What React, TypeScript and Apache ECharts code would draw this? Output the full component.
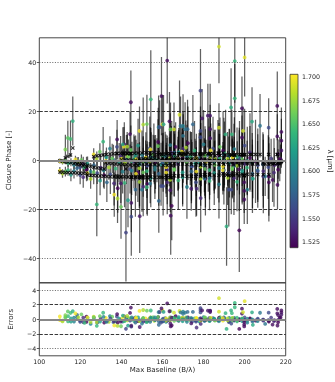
import React, { useEffect, useRef } from "react";
import * as echarts from "echarts";

// Each tuple: [maxBaseline (B/λ), closurePhase, error, wavelength (µm), model]
const leftGroup: number[][] = [
  [110.0, -0.3, 1.0, 1.7, -0.2], [111.3, -0.6, 1.1, 1.68, -0.4], [112.7, -0.2, 1.2, 1.66, -0.6], [114.0, -1.2, 1.4, 1.64, -0.8], [115.4, -0.8, 1.6, 1.62, -1.0],
  [116.9, -1.9, 1.9, 1.6, -1.3], [118.4, -1.0, 2.2, 1.58, -1.6], [119.9, -2.8, 2.6, 1.56, -1.9], [121.4, -1.6, 3.0, 1.54, -2.3], [123.0, -3.9, 3.5, 1.52, -2.7],
  [110.0, -4.2, 1.5, 1.7, -4.8], [111.3, -5.4, 1.7, 1.68, -4.9], [112.7, -4.6, 2.0, 1.66, -5.0], [114.0, -4.0, 2.3, 1.64, -5.0], [115.4, -5.9, 2.6, 1.62, -5.1],
  [116.9, -4.4, 3.0, 1.6, -5.1], [118.4, -3.2, 3.4, 1.58, -5.2], [119.9, -6.0, 3.8, 1.56, -5.3], [121.4, -6.9, 4.3, 1.54, -5.3], [123.0, -3.6, 5.0, 1.52, -5.4],
  [112.7, 4.4, 6.0, 1.665, 1.0], [113.9, 9.1, 7.0, 1.655, 1.6], [115.2, 8.7, 7.5, 1.645, 2.2], [116.3, 16.0, 10.0, 1.635, 5.0],
  [117.6, 0.4, 1.5, 1.7, -0.8], [119.0, -0.5, 1.8, 1.68, -1.0], [120.5, 0.2, 2.2, 1.66, -1.3], [122.0, -2.9, 2.6, 1.64, -1.6], [123.5, -1.4, 3.0, 1.62, -2.0],
  [125.0, -4.6, 3.5, 1.6, -2.4], [126.6, -2.0, 4.0, 1.58, -2.8], [128.2, -5.2, 4.5, 1.56, -3.1], [129.9, -3.0, 5.0, 1.54, -3.4], [131.6, -6.1, 5.5, 1.52, -3.6],
];

const streakUpper: number[][] = [
  [126.5, 2.4, 2.5, 1.7, 1.5], [128.0, 0.6, 3, 1.68, 1.8], [129.5, 3.5, 3.5, 1.66, 2.0], [131.1, 7.6, 6, 1.64, 2.2], [132.7, 1.2, 4, 1.62, 2.4],
  [134.4, 4.8, 5, 1.6, 2.6], [136.1, 0.3, 6, 1.58, 2.7], [137.8, 5.5, 7, 1.56, 2.8], [139.6, 1.9, 8, 1.54, 2.9], [141.4, 6.5, 9, 1.52, 3.0],
  [141.2, 5.6, 8, 1.7, 2.6], [142.9, 1.5, 9, 1.68, 2.7], [144.6, 4.2, 10, 1.66, 2.8], [146.3, 0.8, 9, 1.64, 2.9], [148.1, 6.0, 11, 1.62, 3.0],
  [150.0, 2.2, 10, 1.6, 3.0], [151.9, -0.5, 12, 1.58, 3.1], [153.8, 4.9, 13, 1.56, 3.1], [155.8, 3.0, 12, 1.54, 3.2], [157.9, 7.5, 14, 1.52, 3.2],
  [154.1, 4.5, 9, 1.7, 2.0], [156.0, 0.2, 10, 1.68, 2.2], [157.8, 5.8, 11, 1.66, 2.3], [159.8, 2.0, 9, 1.64, 2.5], [161.7, -1.5, 12, 1.62, 2.6],
  [163.8, 6.2, 13, 1.6, 2.7], [165.8, 3.1, 11, 1.58, 2.8], [167.9, 0.4, 12, 1.56, 2.8], [170.1, 4.8, 14, 1.54, 2.9], [172.4, 7.0, 15, 1.52, 3.0],
  [169.4, 3.5, 10, 1.7, 2.2], [171.4, 5.2, 11, 1.68, 2.3], [173.5, 0.9, 11, 1.66, 2.4], [175.6, 4.0, 12, 1.64, 2.5], [177.8, -0.8, 12, 1.62, 2.6],
  [180.0, 6.5, 14, 1.6, 2.6], [182.3, 2.2, 15, 1.58, 2.7], [184.6, 4.8, 13, 1.56, 2.8], [187.0, 0.5, 16, 1.54, 2.9], [189.5, 3.9, 16, 1.52, 3.0],
  [183.5, 4.0, 11, 1.7, 1.8], [185.7, 0.5, 12, 1.68, 1.9], [188.0, 5.5, 12, 1.66, 2.0], [190.2, 2.8, 13, 1.64, 2.1], [192.6, -1.2, 14, 1.62, 2.2],
  [195.0, 4.6, 13, 1.6, 2.2], [197.5, 1.0, 15, 1.58, 2.3], [200.0, 6.0, 15, 1.56, 2.3], [202.6, 3.2, 16, 1.54, 2.4], [205.3, -0.4, 17, 1.52, 2.4],
];

const streakNearZero: number[][] = [
  [140.0, 0.6, 6, 1.7, 0.2], [141.7, -0.9, 7, 1.68, 0.1], [143.4, 1.5, 7, 1.66, 0.1], [145.1, -0.4, 8, 1.64, 0.0], [146.9, 2.1, 8, 1.62, 0.0],
  [148.8, -1.6, 9, 1.6, -0.1], [150.6, 0.9, 9, 1.58, -0.1], [152.6, -2.2, 10, 1.56, -0.2], [154.5, 1.4, 10, 1.54, -0.2], [156.6, -0.7, 11, 1.52, -0.3],
  [151.8, 1.1, 7, 1.7, 0.3], [153.6, -0.5, 8, 1.68, 0.2], [155.4, 2.4, 8, 1.66, 0.2], [157.3, 0.0, 9, 1.64, 0.1], [159.3, -1.8, 9, 1.62, 0.1],
  [161.3, 1.7, 10, 1.6, 0.0], [163.3, -0.6, 10, 1.58, 0.0], [165.4, 2.0, 11, 1.56, -0.1], [167.5, -1.4, 11, 1.54, -0.1], [169.7, 0.8, 12, 1.52, -0.2],
  [167.6, 0.4, 8, 1.7, 0.4], [169.6, 2.3, 9, 1.68, 0.3], [171.7, -0.8, 9, 1.66, 0.3], [173.8, 1.6, 10, 1.64, 0.2], [175.9, -1.2, 10, 1.62, 0.2],
  [178.1, 0.9, 11, 1.6, 0.1], [180.4, -2.0, 11, 1.58, 0.1], [182.7, 1.8, 12, 1.56, 0.0], [185.1, -0.3, 12, 1.54, 0.0], [187.5, 2.2, 13, 1.52, -0.1],
  [181.2, -0.6, 9, 1.7, 0.0], [183.3, 1.3, 9, 1.68, -0.1], [185.5, -1.9, 10, 1.66, -0.1], [187.8, 0.7, 10, 1.64, -0.2], [190.1, -0.2, 11, 1.62, -0.2],
  [192.5, 1.9, 11, 1.6, -0.3], [194.9, -2.4, 12, 1.58, -0.3], [197.4, 0.3, 12, 1.56, -0.4], [200.0, -1.5, 13, 1.54, -0.4], [202.6, 1.0, 13, 1.52, -0.5],
];

const streakMid: number[][] = [
  [132.4, -0.2, 4, 1.7, -1.0], [133.9, -2.9, 5, 1.68, -1.2], [135.5, 0.8, 6, 1.66, -1.3], [137.2, -3.4, 7, 1.64, -1.5], [138.9, -0.9, 8, 1.62, -1.6],
  [140.6, -4.6, 9, 1.6, -1.7], [142.4, 0.3, 10, 1.58, -1.8], [144.2, -3.6, 10, 1.56, -1.9], [146.1, -0.5, 11, 1.54, -2.0], [148.0, -5.0, 12, 1.52, -2.1],
  [147.1, 0.4, 8, 1.7, -1.3], [148.8, -3.2, 9, 1.68, -1.4], [150.6, -0.6, 10, 1.66, -1.5], [152.4, -4.4, 11, 1.64, -1.6], [154.3, 1.2, 12, 1.62, -1.7],
  [156.3, -2.5, 11, 1.6, -1.8], [158.2, -5.5, 13, 1.58, -1.9], [160.3, -0.8, 12, 1.56, -2.0], [162.3, -3.9, 14, 1.54, -2.1], [164.5, 1.0, 15, 1.52, -2.2],
  [161.8, -2.8, 9, 1.7, -1.2], [163.7, 0.9, 10, 1.68, -1.3], [165.7, -3.6, 11, 1.66, -1.4], [167.7, -0.2, 12, 1.64, -1.5], [169.8, -4.9, 13, 1.62, -1.5],
  [171.9, 1.5, 13, 1.6, -1.6], [174.1, -2.4, 14, 1.58, -1.7], [176.3, -6.0, 14, 1.56, -1.8], [178.6, 0.2, 15, 1.54, -1.9], [180.9, -3.3, 16, 1.52, -2.0],
  [176.5, 0.8, 10, 1.7, -1.0], [178.6, -2.6, 11, 1.68, -1.1], [180.7, 1.9, 12, 1.66, -1.2], [182.9, -4.0, 12, 1.64, -1.3], [185.2, -0.5, 13, 1.62, -1.4],
  [187.5, -3.2, 14, 1.6, -1.5], [189.9, 2.4, 15, 1.58, -1.6], [192.3, -5.3, 15, 1.56, -1.7], [194.8, -1.1, 16, 1.54, -1.8], [197.4, -3.7, 17, 1.52, -1.9],
  [189.4, -2.5, 10, 1.7, -0.8], [191.7, 0.6, 11, 1.68, -0.9], [194.0, -3.1, 12, 1.66, -1.0], [196.3, 1.4, 12, 1.64, -1.1], [198.8, -4.2, 13, 1.62, -1.2],
  [201.3, -0.3, 14, 1.6, -1.3], [203.8, -5.5, 14, 1.58, -1.4], [206.4, -2.0, 15, 1.56, -1.5], [209.1, -4.4, 15, 1.54, -1.6], [211.8, -6.6, 16, 1.52, -1.7],
  [194.1, 1.2, 9, 1.7, -0.5], [196.4, -2.2, 10, 1.68, -0.6], [198.8, 0.5, 11, 1.66, -0.7], [201.2, -3.0, 11, 1.64, -0.8], [203.7, -0.9, 12, 1.62, -0.9],
  [206.3, -4.1, 12, 1.6, -1.0], [208.9, -1.6, 13, 1.58, -1.1], [211.5, -2.8, 13, 1.56, -1.2], [214.3, -5.0, 14, 1.54, -1.3], [217.1, 0.5, 9, 1.52, -1.4],
];

const streakLower: number[][] = [
  [123.5, -5.2, 3, 1.7, -6.0], [125.0, -7.6, 4, 1.68, -6.1], [126.5, -4.8, 5, 1.66, -6.2], [128.0, -18.0, 13, 1.64, -6.3], [129.6, -8.3, 6, 1.62, -6.4],
  [131.3, -4.1, 7, 1.6, -6.5], [132.9, -9.0, 8, 1.58, -6.6], [134.6, -5.8, 8, 1.56, -6.7], [136.4, -9.4, 9, 1.54, -6.8], [138.2, -11.4, 10, 1.52, -6.9],
  [136.5, -14.0, 9, 1.7, -6.4], [138.1, -15.6, 10, 1.68, -6.5], [139.8, -19.0, 13, 1.66, -6.6], [141.5, -9.2, 10, 1.64, -6.7], [143.2, -16.3, 11, 1.62, -6.8],
  [145.0, -4.2, 10, 1.6, -6.9], [146.8, -12.0, 11, 1.58, -7.0], [148.7, -8.6, 11, 1.56, -7.0], [150.6, -10.8, 12, 1.54, -7.1], [152.6, -9.6, 13, 1.52, -7.1],
  [147.1, -5.5, 9, 1.7, -6.6], [148.8, -8.8, 10, 1.68, -6.7], [150.6, -4.9, 10, 1.66, -6.7], [152.4, -11.0, 11, 1.64, -6.8], [154.3, -7.2, 12, 1.62, -6.8],
  [156.3, -3.8, 12, 1.6, -6.9], [158.2, -16.6, 13, 1.58, -6.9], [160.3, -10.5, 12, 1.56, -7.0], [162.3, -9.0, 13, 1.54, -7.0], [164.5, -18.6, 14, 1.52, -7.1],
  [161.8, -5.0, 10, 1.7, -6.2], [163.7, -8.0, 11, 1.68, -6.3], [165.7, -3.9, 11, 1.66, -6.3], [167.7, -8.2, 12, 1.64, -6.4], [169.8, -6.9, 12, 1.62, -6.4],
  [171.9, -10.9, 13, 1.6, -6.5], [174.1, -4.5, 13, 1.58, -6.5], [176.3, -9.0, 14, 1.56, -6.6], [178.6, -15.4, 14, 1.54, -6.6], [180.9, -7.5, 15, 1.52, -6.7],
  [176.5, -4.6, 10, 1.7, -5.8], [178.6, -7.5, 11, 1.68, -5.9], [180.7, -3.5, 12, 1.66, -5.9], [182.9, -8.4, 12, 1.64, -6.0], [185.2, -5.2, 13, 1.62, -6.0],
  [187.5, -9.8, 14, 1.6, -6.1], [189.9, -4.0, 14, 1.58, -6.1], [192.3, -12.0, 15, 1.56, -6.2], [194.8, -7.3, 15, 1.54, -6.2], [197.4, -28.6, 17, 1.52, -6.3],
  [189.4, -4.0, 10, 1.7, -5.5], [191.7, -7.2, 11, 1.68, -5.5], [194.0, -3.6, 12, 1.66, -5.6], [196.3, -8.8, 12, 1.64, -5.6], [198.8, -5.0, 13, 1.62, -5.7],
  [201.3, -12.0, 14, 1.6, -5.7], [203.8, -7.5, 14, 1.58, -5.8], [206.4, -4.4, 15, 1.56, -5.8], [209.1, -6.6, 15, 1.54, -5.9], [211.8, -9.0, 16, 1.52, -5.9],
];

const streakZero: number[][] = [
  [148.8, 12.0, 10, 1.7, 0.5], [150.6, 14.6, 11, 1.68, 0.6], [152.4, 14.8, 12, 1.66, 0.7], [154.3, 24.9, 20, 1.64, 0.8], [156.2, 0.5, 8, 1.62, 0.8],
  [158.1, 13.5, 13, 1.6, 0.9], [160.1, -1.2, 9, 1.58, 0.9], [162.2, -0.9, 10, 1.56, 1.0], [164.3, 3.0, 11, 1.54, 1.0], [166.4, 5.5, 10, 1.52, 1.1],
  [160.0, 14.7, 12, 1.7, 0.0], [161.9, -0.8, 8, 1.68, 0.1], [163.9, 12.6, 11, 1.66, 0.2], [165.9, 1.8, 9, 1.64, 0.3], [167.9, 3.2, 10, 1.62, 0.4],
  [170.0, 14.0, 13, 1.6, 0.5], [172.2, 12.7, 12, 1.58, 0.6], [174.4, -2.5, 10, 1.56, 0.7], [176.6, -11.6, 11, 1.54, 0.8], [178.9, 0.4, 11, 1.52, 0.9],
];

const outliersHigh: number[][] = [
  [137.9, 8.5, 8, 1.525, 2.8], [140.7, 6.5, 7, 1.63, 2.9], [142.8, 5.6, 6, 1.68, 2.9], [144.2, 10.7, 9, 1.525, 2.8], [144.6, 23.7, 13, 1.525, 2.8],
  [158.6, 13.5, 11, 1.56, 2.5], [159.5, 26.2, 16, 1.525, 2.5], [160.5, 14.7, 12, 1.62, 2.5], [162.3, 40.7, 17.5, 1.525, 2.7], [163.4, 15.9, 12, 1.525, 2.7],
  [165.6, 12.6, 11, 1.69, 2.6], [168.3, 18.6, 14, 1.69, 2.7], [168.8, 14.0, 12, 1.59, 2.7], [171.0, 12.7, 11, 1.59, 2.7], [170.0, 10.0, 10, 1.59, 2.4],
  [174.8, 14.7, 12, 1.58, 2.5], [178.5, 28.4, 17, 1.555, 2.6], [178.5, 12.0, 10, 1.56, 2.6], [178.5, 9.4, 9, 1.56, -1.9], [179.3, 17.1, 12, 1.53, 2.6],
  [182.1, 18.2, 13, 1.53, 2.7], [183.2, 18.2, 13, 1.53, 2.7], [183.2, 12.7, 10, 1.53, 2.7], [183.2, 9.0, 9, 1.53, -1.3], [187.5, 46.4, 15, 1.69, 2.9],
  [187.5, 13.3, 10, 1.69, 2.9], [190.7, 10.6, 10, 1.635, 2.2], [193.4, 21.6, 16, 1.635, 2.2], [193.8, 10.6, 10, 1.64, 2.2], [195.2, 40.5, 17, 1.64, 2.2],
  [195.2, 25.3, 14, 1.64, 2.2], [198.7, 21.2, 13, 1.525, 2.3], [198.7, 9.3, 9, 1.525, 2.3], [199.2, 12.0, 10, 1.69, 2.3], [200.0, 42.0, 16, 1.695, 2.3],
  [203.6, 15.8, 14, 1.63, 2.4], [207.5, 14.1, 13, 1.59, 2.4], [211.7, 13.3, 12, 1.56, 2.4], [215.9, 22.2, 14, 1.525, 2.4], [215.9, 9.8, 9, 1.525, 2.4],
];

const outliersLow: number[][] = [
  [139.7, -9.4, 8, 1.53, -6.9], [142.2, -29.5, 20, 1.555, -3.5], [144.8, -23.0, 16, 1.56, -6.8], [144.8, -17.4, 12, 1.53, -6.8], [148.9, -22.8, 15, 1.53, -7.0],
  [150.0, -12.0, 9, 1.59, -6.7], [154.0, -9.5, 8, 1.59, -6.8], [159.3, -10.5, 8, 1.56, -6.9], [163.8, -12.2, 9, 1.53, -7.0], [164.0, -22.6, 16, 1.525, -7.0],
  [174.0, -11.6, 9, 1.53, -6.5], [180.5, -7.5, 7, 1.59, -6.0], [183.0, -7.2, 7, 1.59, -6.0], [191.2, -27.0, 16, 1.635, -6.0], [193.5, -12.0, 10, 1.56, -6.2],
  [199.8, -9.0, 8, 1.525, -6.2], [199.8, -12.5, 9, 1.525, -6.2], [199.8, -16.0, 10, 1.525, -6.2], [204.0, -7.5, 8, 1.63, -1.5], [210.0, -6.6, 8, 1.59, -1.5],
  [213.6, -8.0, 9, 1.525, -1.5], [216.0, -10.0, 10, 1.525, -1.5],
];

const rightCluster: number[][] = [
  [217.9, 11.6, 10, 1.525, -0.5], [217.9, 8.0, 9, 1.525, -0.5], [217.9, 4.0, 7, 1.53, -0.5], [216.3, 2.5, 6, 1.53, -1.0], [216.3, -1.5, 6, 1.54, -1.0],
  [216.3, -3.8, 7, 1.52, -1.0], [217.5, 0.5, 6, 1.525, -1.0], [214.5, -2.0, 7, 1.535, -1.2], [212.9, 0.8, 8, 1.55, -1.1],
];

const mainTicks = [-40, -20, 0, 20, 40];
const residTicks = [-4, -2, 0, 2, 4];
const cbarTicks = [1.525, 1.55, 1.575, 1.6, 1.625, 1.65, 1.675, 1.7];
const LAM_MIN = 1.5186;
const LAM_MAX = 1.7025;
const VIRIDIS = ["#440154", "#482878", "#3e4989", "#31688e", "#26828e", "#1f9e89", "#35b779", "#6ece58", "#b5de2b", "#fde725"];

const FONT = "DejaVu Sans";
const minus = (v: number) => String(v).replace("-", "\u2212");

export default function App() {
  const ref = useRef<HTMLDivElement>(null);
  useEffect(() => {
    if (!ref.current) return;
    const chart = echarts.init(ref.current, null, { renderer: "svg" });
    const all = [...leftGroup, ...streakUpper, ...streakNearZero, ...streakMid, ...streakLower, ...streakZero, ...outliersHigh, ...outliersLow, ...rightCluster];
    const bars = all.map((p) => [p[0], p[1] - p[2], p[1] + p[2]]);
    const pts = all.map((p) => [p[0], p[1], p[3]]);
    const model = all.map((p) => [p[0], p[4]]);
    const resid = all.map((p) => [p[0], (p[1] - p[4]) / p[2], p[3]]);

    const dashed = { type: [3.5, 1.6], color: "#222", width: 0.9 };
    const dotted = { type: [1, 1.6], color: "#555", width: 0.9 };
    const zero = { type: "solid", color: "#888", width: 1.8 };
    const axisLine = { show: false };
    const tick = { show: true, length: 2.5, lineStyle: { color: "#333", width: 0.8 } };
    const lbl = { fontFamily: FONT, fontSize: 6.3, color: "#222" };
    const gridCommon = { show: true, borderColor: "#333", borderWidth: 0.9, backgroundColor: "transparent", outerBoundsMode: "none" };

    chart.setOption({
      animation: false,
      textStyle: { fontFamily: FONT },
      grid: [
        { left: 39.3, top: 37.8, width: 246.4, height: 245, ...gridCommon },
        { left: 39.3, top: 282.8, width: 246.4, height: 73, ...gridCommon },
        { left: 290, top: 74.3, width: 8, height: 173.4, outerBoundsMode: "none" },
      ],
      xAxis: [
        { gridIndex: 0, type: "value", min: 100, max: 220, interval: 20, axisLine, axisTick: tick, axisLabel: { show: false }, splitLine: { show: false } },
        {
          gridIndex: 1, type: "value", min: 100, max: 220, interval: 20, axisLine, axisTick: tick,
          axisLabel: { ...lbl, margin: 3 }, splitLine: { show: false },
          name: "Max Baseline (B/\u03bb)", nameLocation: "middle", nameGap: 11,
          nameTextStyle: { fontFamily: FONT, fontSize: 7, color: "#222" },
        },
        { gridIndex: 2, type: "value", min: 0, max: 1, show: false },
      ],
      yAxis: [
        {
          gridIndex: 0, type: "value", min: -50, max: 50, axisLine,
          axisTick: { ...tick, customValues: mainTicks },
          axisLabel: { ...lbl, margin: 3, customValues: mainTicks, formatter: (v: number) => minus(v) },
          splitLine: { show: false },
          name: "Closure Phase [-]", nameLocation: "middle", nameGap: 25,
          nameTextStyle: { fontFamily: FONT, fontSize: 7, color: "#222" },
        },
        {
          gridIndex: 1, type: "value", min: -5, max: 5, axisLine,
          axisTick: { ...tick, customValues: residTicks },
          axisLabel: { ...lbl, margin: 3, customValues: residTicks, formatter: (v: number) => minus(v) },
          splitLine: { show: false },
          name: "Errors", nameLocation: "middle", nameGap: 25,
          nameTextStyle: { fontFamily: FONT, fontSize: 7, color: "#222" },
        },
        {
          gridIndex: 2, type: "value", position: "right", min: LAM_MIN, max: LAM_MAX, axisLine,
          axisTick: { ...tick, customValues: cbarTicks },
          axisLabel: { ...lbl, margin: 4, customValues: cbarTicks, formatter: (v: number) => v.toFixed(3) },
          splitLine: { show: false },
          name: "\u03bb [\u03bcm]", nameLocation: "middle", nameGap: 28, nameRotate: -90,
          nameTextStyle: { fontFamily: FONT, fontSize: 7, color: "#222" },
        },
      ],
      visualMap: {
        type: "continuous", show: false, min: LAM_MIN, max: LAM_MAX, dimension: 2,
        seriesIndex: [1, 4], inRange: { color: VIRIDIS },
      },
      series: [
        {
          type: "custom", xAxisIndex: 0, yAxisIndex: 0, clip: true, z: 2, data: bars,
          encode: { x: 0, y: [1, 2] },
          renderItem: (_p: any, api: any) => {
            const a = api.coord([api.value(0), api.value(1)]);
            const b = api.coord([api.value(0), api.value(2)]);
            return { type: "line", shape: { x1: a[0], y1: a[1], x2: b[0], y2: b[1] }, style: { stroke: "rgba(0,0,0,0.62)", lineWidth: 1.25 } };
          },
        },
        { type: "scatter", xAxisIndex: 0, yAxisIndex: 0, data: pts, symbol: "circle", symbolSize: 3.8, z: 3, clip: true },
        {
          type: "scatter", xAxisIndex: 0, yAxisIndex: 0, data: model, z: 4, clip: true,
          symbol: "path://M0,2L2,0L5,3L8,0L10,2L7,5L10,8L8,10L5,7L2,10L0,8L3,5Z", symbolSize: 4,
          itemStyle: { color: "#000" },
        },
        {
          type: "line", xAxisIndex: 0, yAxisIndex: 0, data: [], z: 1,
          markLine: {
            silent: true, symbol: "none", label: { show: false },
            data: [
              { yAxis: 40, lineStyle: dotted }, { yAxis: -40, lineStyle: dotted },
              { yAxis: 20, lineStyle: dashed }, { yAxis: -20, lineStyle: dashed },
              { yAxis: 0, lineStyle: zero },
            ],
          },
        },
        { type: "scatter", xAxisIndex: 1, yAxisIndex: 1, data: resid, symbol: "circle", symbolSize: 3.8, z: 3, clip: true },
        {
          type: "line", xAxisIndex: 1, yAxisIndex: 1, data: [], z: 1,
          markLine: {
            silent: true, symbol: "none", label: { show: false },
            data: [
              { yAxis: 4, lineStyle: dotted }, { yAxis: -4, lineStyle: dotted },
              { yAxis: 2, lineStyle: dashed }, { yAxis: -2, lineStyle: dashed },
              { yAxis: 0, lineStyle: { ...zero, width: 2.2 } },
            ],
          },
        },
        {
          type: "custom", xAxisIndex: 2, yAxisIndex: 2, data: [[0, LAM_MIN, 1, LAM_MAX]],
          encode: { x: [0, 2], y: [1, 3] },
          renderItem: (_p: any, api: any) => {
            const a = api.coord([api.value(0), api.value(3)]);
            const b = api.coord([api.value(2), api.value(1)]);
            return {
              type: "rect",
              shape: { x: a[0], y: a[1], width: b[0] - a[0], height: b[1] - a[1] },
              style: {
                fill: {
                  type: "linear", x: 0, y: 1, x2: 0, y2: 0,
                  colorStops: VIRIDIS.map((c, i) => ({ offset: i / (VIRIDIS.length - 1), color: c })),
                },
                stroke: "#333", lineWidth: 0.8,
              },
            };
          },
        },
      ],
    });
    return () => chart.dispose();
  }, []);
  return <div ref={ref} style={{ position: "fixed", left: 0, top: 0, width: 335, height: 382 }} />;
}
